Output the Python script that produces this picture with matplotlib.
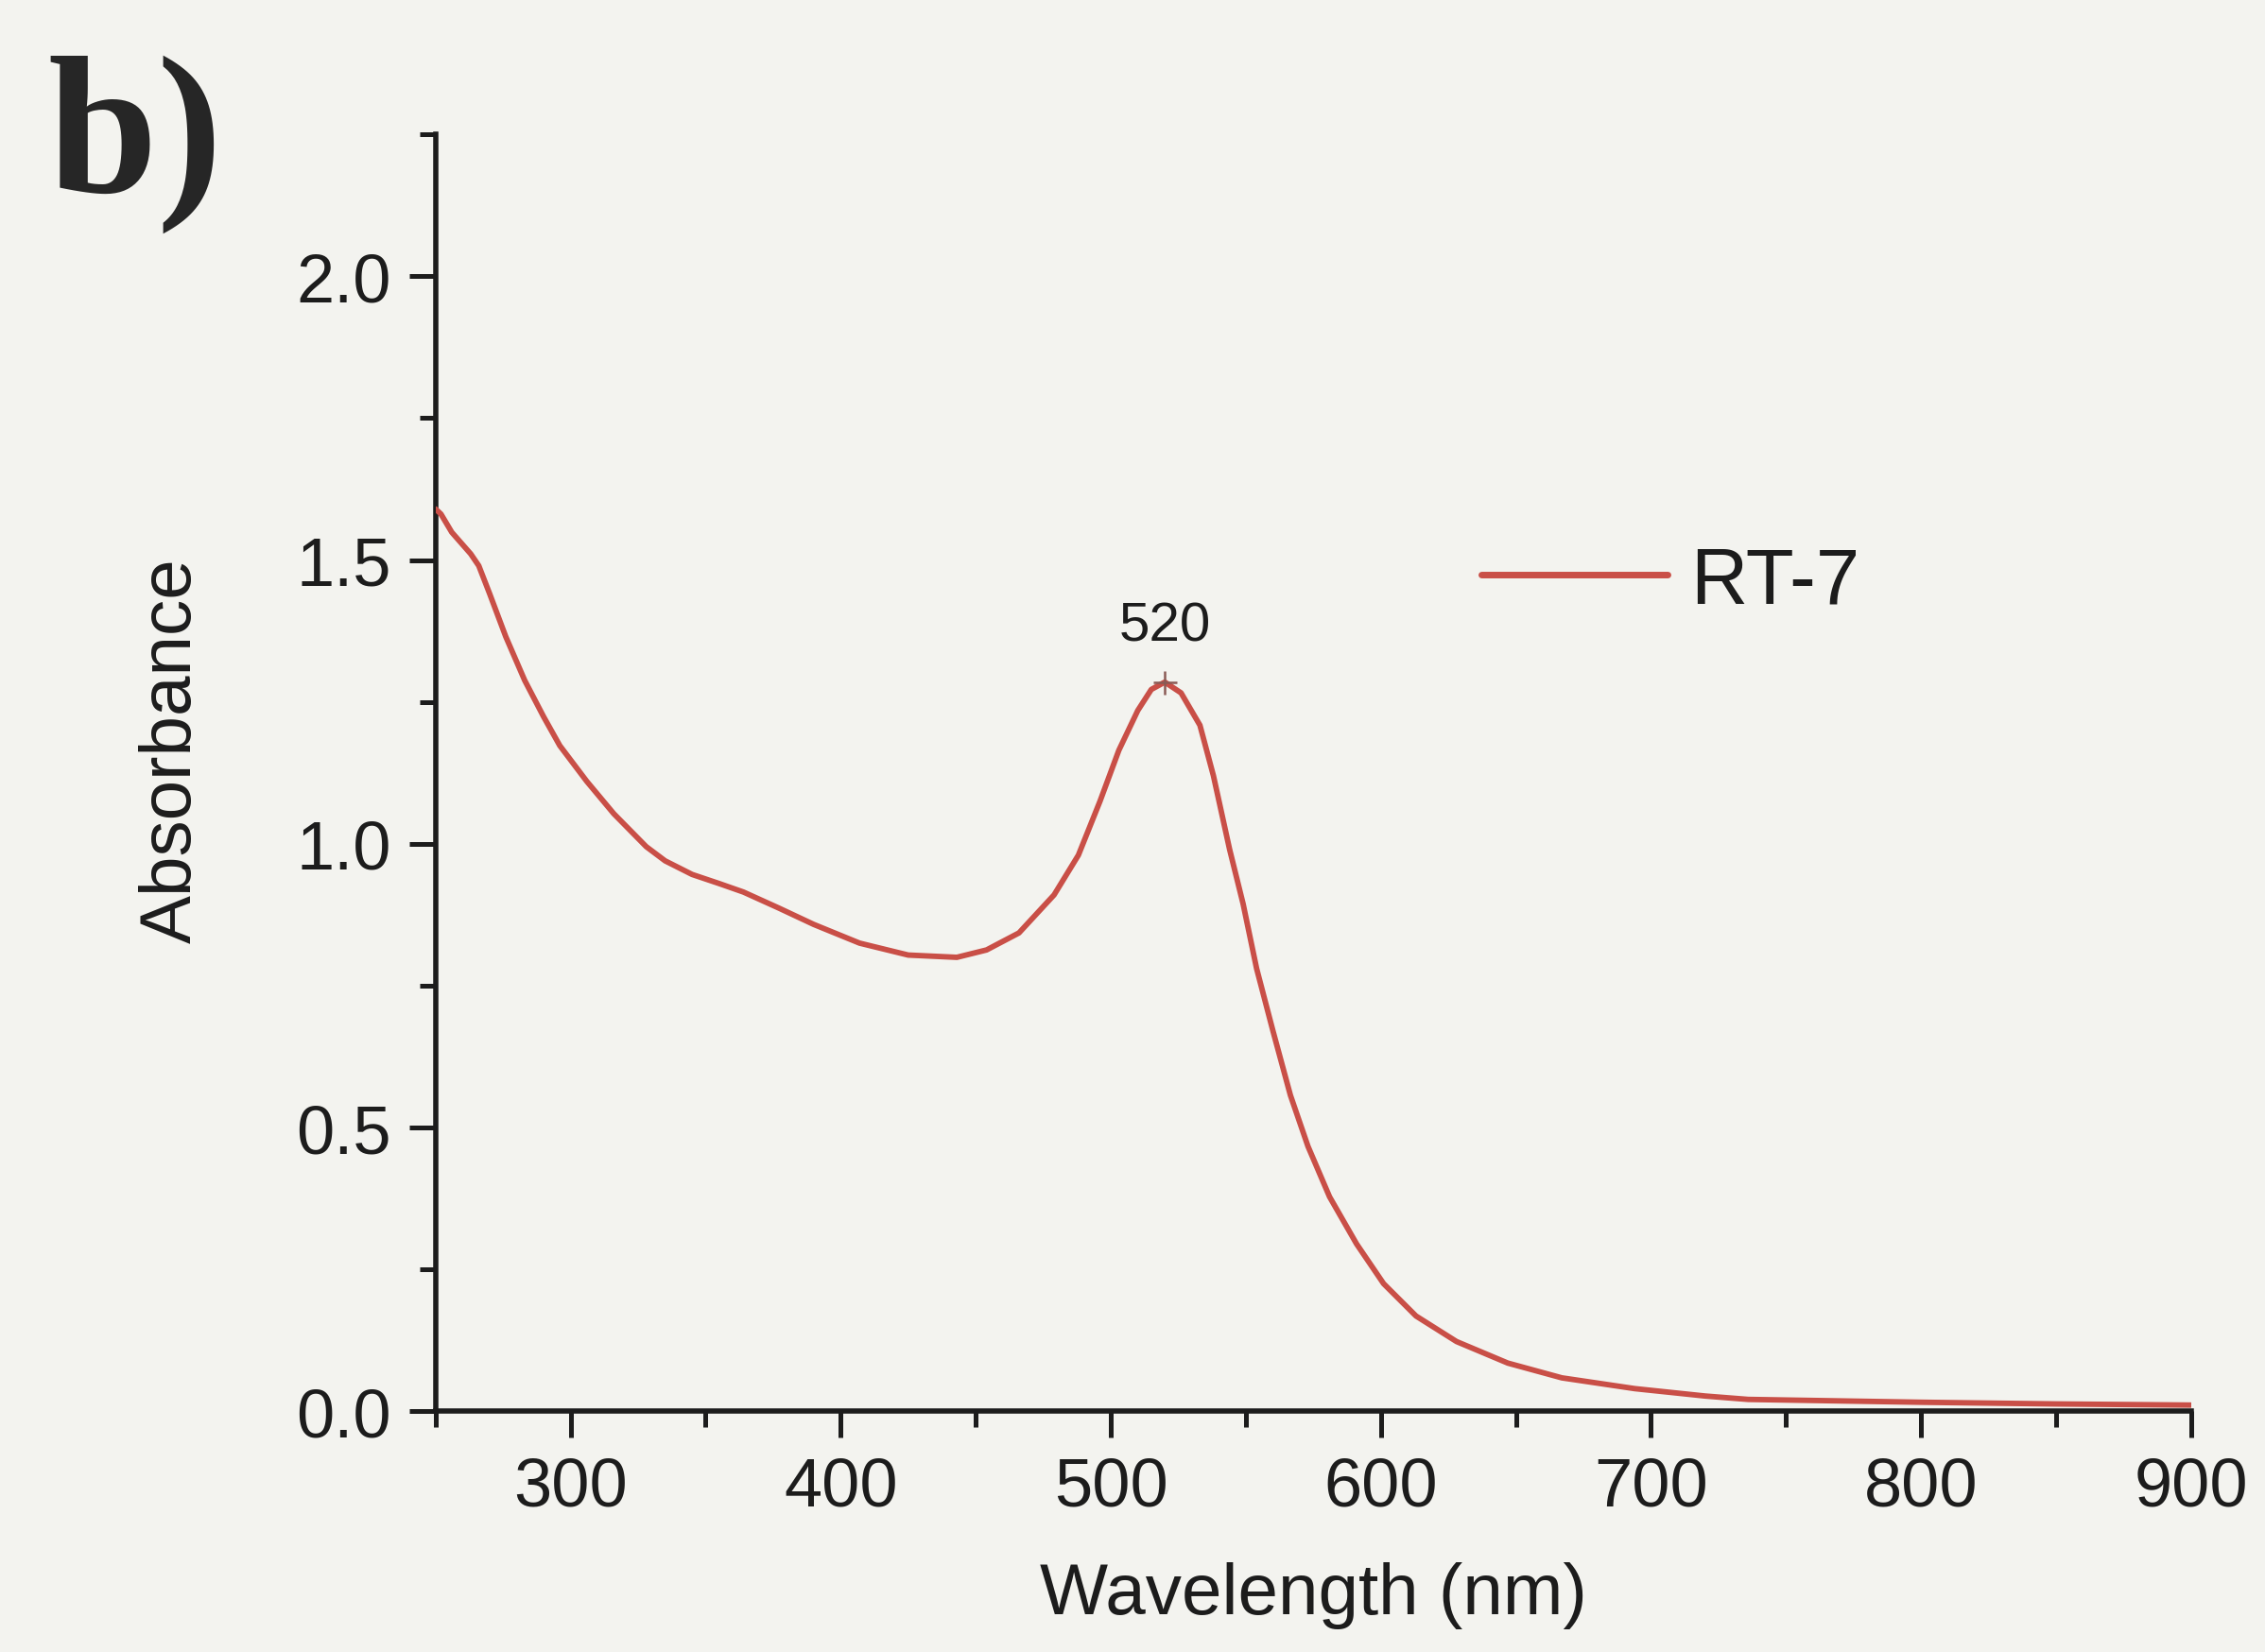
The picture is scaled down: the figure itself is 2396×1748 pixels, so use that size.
import matplotlib
matplotlib.use("Agg")
import matplotlib.pyplot as plt
from matplotlib.ticker import MultipleLocator

# Data (UV-vis spectrum of RT-7)
wavelength = [250, 252, 256, 263, 266, 270, 276, 283, 290, 296, 306, 316, 328, 335,
              345, 355, 364, 377, 390, 407, 425, 443, 454, 466, 479, 488, 496, 503,
              510, 515, 520, 526, 533, 538, 544, 549, 554, 560, 566.5, 573, 581, 591,
              601, 613, 628, 647, 667, 694, 720, 736, 762, 800, 850, 900]
absorbance = [1.59, 1.581, 1.549, 1.511, 1.49, 1.441, 1.365, 1.288, 1.224, 1.173, 1.110,
              1.053, 0.995, 0.970, 0.946, 0.93, 0.915, 0.887, 0.858, 0.825, 0.804, 0.80,
              0.813, 0.843, 0.91, 0.98, 1.075, 1.165, 1.235, 1.272, 1.285, 1.266, 1.209,
              1.12, 0.99, 0.894, 0.78, 0.671, 0.557, 0.467, 0.378, 0.295, 0.225, 0.168,
              0.123, 0.085, 0.059, 0.040, 0.027, 0.021, 0.019, 0.016, 0.013, 0.011]
series_label = "RT-7"
peak_wavelength = 520
peak_absorbance = 1.285
xticks = [300, 400, 500, 600, 700, 800, 900]
yticks = [0.0, 0.5, 1.0, 1.5, 2.0]

plt.rcParams['font.family'] = ['Liberation Sans', 'DejaVu Sans']
text_color = '#1c1c1c'
line_color = '#c94f47'
bg = '#f3f3ef'

fig = plt.figure(figsize=(23.96, 17.49), dpi=100, facecolor=bg)
ax = fig.add_axes([0.1923, 0.1456, 0.7751, 0.7725], facecolor=bg)

ax.plot(wavelength, absorbance, color=line_color, lw=4.2, label=series_label,
        solid_joinstyle='round', solid_capstyle='round', zorder=3)
ax.plot([peak_wavelength], [peak_absorbance], marker='+', color='#8a5a55',
        markersize=18, mew=1.8, linestyle='none', zorder=4)
ax.text(peak_wavelength, 1.359, str(peak_wavelength), ha='center', va='baseline',
        fontsize=42, color=text_color)

ax.set_xlim(250, 900)
ax.set_ylim(0, 2.25)
ax.set_xticks(xticks)
ax.set_yticks(yticks)
ax.set_yticklabels([f"{v:.1f}" for v in yticks])
ax.xaxis.set_minor_locator(MultipleLocator(50))
ax.yaxis.set_minor_locator(MultipleLocator(0.25))

for s in ['top', 'right']:
    ax.spines[s].set_visible(False)
for s in ['left', 'bottom']:
    ax.spines[s].set_linewidth(4.0)
    ax.spines[s].set_color(text_color)

ax.tick_params(which='major', direction='out', length=20, width=3.6, pad=14,
               labelsize=52, colors=text_color)
ax.tick_params(which='minor', direction='out', length=12, width=3.6, colors=text_color)

ax.set_xlabel("Wavelength (nm)", fontsize=55, color=text_color)
ax.set_ylabel("Absorbance", fontsize=55, color=text_color)
ax.xaxis.set_label_coords(0.5, -0.1174)
ax.yaxis.set_label_coords(-0.1307, 0.5185)

leg = ax.legend(loc='center left', bbox_to_anchor=(0.5957, 0.650), frameon=False,
                fontsize=60, handlelength=2.36, handletextpad=0.29,
                borderpad=0, borderaxespad=0)
for t in leg.get_texts():
    t.set_color(text_color)
for h in leg.legend_handles:
    h.set_linewidth(5)

fig.text(0.021, 0.884, "b)", fontfamily=['Liberation Serif', 'DejaVu Serif'],
         fontweight='bold', fontsize=150, color='#262626', va='baseline', ha='left')

fig.savefig("out.png", dpi=100, facecolor=bg)
